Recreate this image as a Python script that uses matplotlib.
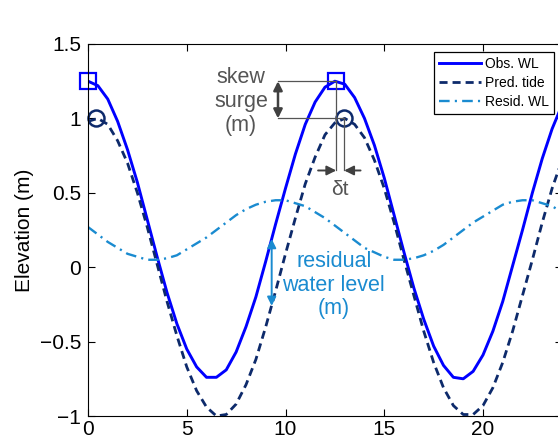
import matplotlib
matplotlib.use('Agg')
import matplotlib.pyplot as plt

# time axis (hours) and the three water level series
hours = [i * 0.5 for i in range(49)]

obs_wl = [1.25, 1.22, 1.13, 0.98, 0.79, 0.57, 0.32, 0.07, -0.17, -0.38,
          -0.55, -0.67, -0.74, -0.74, -0.69, -0.57, -0.40, -0.20, 0.04, 0.29,
          0.53, 0.76, 0.96, 1.11, 1.21, 1.25, 1.23, 1.14, 1.00, 0.82,
          0.60, 0.35, 0.10, -0.14, -0.35, -0.53, -0.66, -0.74, -0.75, -0.70,
          -0.59, -0.43, -0.23, 0.01, 0.25, 0.50, 0.73, 0.93, 1.09]

pred_tide = [0.98, 1.00, 0.96, 0.85, 0.70, 0.50, 0.27, 0.02, -0.23, -0.46,
             -0.67, -0.83, -0.94, -1.00, -0.99, -0.92, -0.79, -0.62, -0.40, -0.16,
             0.09, 0.33, 0.56, 0.74, 0.89, 0.97, 1.00, 0.96, 0.87, 0.72,
             0.53, 0.30, 0.05, -0.19, -0.43, -0.64, -0.81, -0.93, -0.99, -0.99,
             -0.93, -0.81, -0.64, -0.43, -0.19, 0.05, 0.30, 0.53, 0.72]

resid_wl = [0.27, 0.22, 0.17, 0.13, 0.09, 0.07, 0.05, 0.05, 0.06, 0.08,
            0.12, 0.16, 0.20, 0.25, 0.30, 0.35, 0.39, 0.42, 0.44, 0.45,
            0.45, 0.43, 0.41, 0.37, 0.33, 0.28, 0.23, 0.18, 0.13, 0.10,
            0.07, 0.05, 0.05, 0.06, 0.08, 0.11, 0.15, 0.20, 0.25, 0.30,
            0.34, 0.38, 0.42, 0.44, 0.45, 0.45, 0.43, 0.41, 0.37]

# high water marks
obs_peak_t = [0.0, 12.57]
obs_peak_v = [1.25, 1.25]
pred_peak_t = [0.4, 12.97]
pred_peak_v = [1.0, 1.0]

# residual arrow (between the two curves)
resid_arrow_t = 9.3
resid_arrow_v = [0.19, -0.26]

x_ticks = [0, 5, 10, 15, 20]
y_ticks = [1.5, 1, 0.5, 0, -0.5, -1]
y_tick_labels = ['1.5', '1', '0.5', '0', '\u22120.5', '\u22121']

C_OBS = '#0000ff'
C_PRED = '#0d2a6b'
C_RES = '#1a8bd0'
C_GREY = '#555555'
C_ARROW = '#404040'

plt.rcParams['font.family'] = ['Liberation Sans', 'DejaVu Sans']

fig = plt.figure(figsize=(5.58, 4.40), dpi=100)
ax = fig.add_axes([88 / 558, 24 / 440, 474 / 558, 372 / 440])

ax.plot(hours, obs_wl, color=C_OBS, lw=2.1, label='Obs. WL')
ax.plot(hours, pred_tide, color=C_PRED, lw=2.0, linestyle=(0, (2.9, 1.8)),
        label='Pred. tide')
ax.plot(hours, resid_wl, color=C_RES, lw=1.7, linestyle=(0, (4.5, 2.2, 0.9, 2.2)),
        label='Resid. WL')

ax.plot(obs_peak_t, obs_peak_v, linestyle='none', marker='s', markersize=12,
        markerfacecolor='none', markeredgecolor=C_OBS, markeredgewidth=1.6,
        clip_on=False)
ax.plot(pred_peak_t, pred_peak_v, linestyle='none', marker='o', markersize=11.5,
        markerfacecolor='none', markeredgecolor=C_PRED, markeredgewidth=1.8,
        clip_on=False)

# skew surge guide lines
t_left = 9.62
ax.plot([t_left, obs_peak_t[1]], [obs_peak_v[1], obs_peak_v[1]], color=C_GREY, lw=0.9)
ax.plot([t_left, pred_peak_t[1]], [pred_peak_v[1], pred_peak_v[1]], color=C_GREY, lw=0.9)
ax.plot([obs_peak_t[1], obs_peak_t[1]], [obs_peak_v[1], 0.65], color=C_GREY, lw=0.9)
ax.plot([pred_peak_t[1], pred_peak_t[1]], [pred_peak_v[1], 0.65], color=C_GREY, lw=0.9)

ax.annotate('', xy=(t_left, obs_peak_v[1]), xytext=(t_left, pred_peak_v[1]),
            arrowprops=dict(arrowstyle='<|-|>', color=C_ARROW, lw=1.8,
                            mutation_scale=13, shrinkA=0, shrinkB=0))
ax.text(7.75, 1.115, 'skew\nsurge\n(m)', ha='center', va='center',
        fontsize=15.5, color=C_GREY, linespacing=1.2)

# delta t arrows
ax.annotate('', xy=(obs_peak_t[1], 0.65), xytext=(11.65, 0.65),
            arrowprops=dict(arrowstyle='-|>', color=C_ARROW, lw=1.4,
                            mutation_scale=14, shrinkA=0, shrinkB=0))
ax.annotate('', xy=(pred_peak_t[1], 0.65), xytext=(13.8, 0.65),
            arrowprops=dict(arrowstyle='-|>', color=C_ARROW, lw=1.4,
                            mutation_scale=14, shrinkA=0, shrinkB=0))
ax.text(12.75, 0.52, '\u03b4t', ha='center', va='center', fontsize=15, color=C_GREY)

# residual arrow and label
ax.annotate('', xy=(resid_arrow_t, resid_arrow_v[0]), xytext=(resid_arrow_t, resid_arrow_v[1]),
            arrowprops=dict(arrowstyle='<|-|>', color=C_RES, lw=1.4,
                            mutation_scale=13, shrinkA=0, shrinkB=0))
ax.text(12.45, -0.12, 'residual\nwater level\n(m)', ha='center', va='center',
        fontsize=15.5, color=C_RES, linespacing=1.17)

ax.set_xlim(0, 24)
ax.set_ylim(-1, 1.5)
ax.set_xticks(x_ticks)
ax.set_xticklabels([str(v) for v in x_ticks])
ax.set_yticks(y_ticks)
ax.set_yticklabels(y_tick_labels)
ax.tick_params(direction='in', top=True, right=True, length=5, width=0.8,
               labelsize=15, pad=5)
ax.tick_params(axis='x', pad=3)
for s in ax.spines.values():
    s.set_linewidth(0.8)
ax.set_ylabel('Elevation (m)', fontsize=15, labelpad=4)

leg = ax.legend(loc='upper right', fontsize=10, fancybox=False, framealpha=1,
                edgecolor='black', handlelength=3.0, handletextpad=0.3,
                labelspacing=0.35, borderpad=0.35, borderaxespad=0.6)
leg.get_frame().set_linewidth(0.9)

fig.savefig('out.png', dpi=100)
